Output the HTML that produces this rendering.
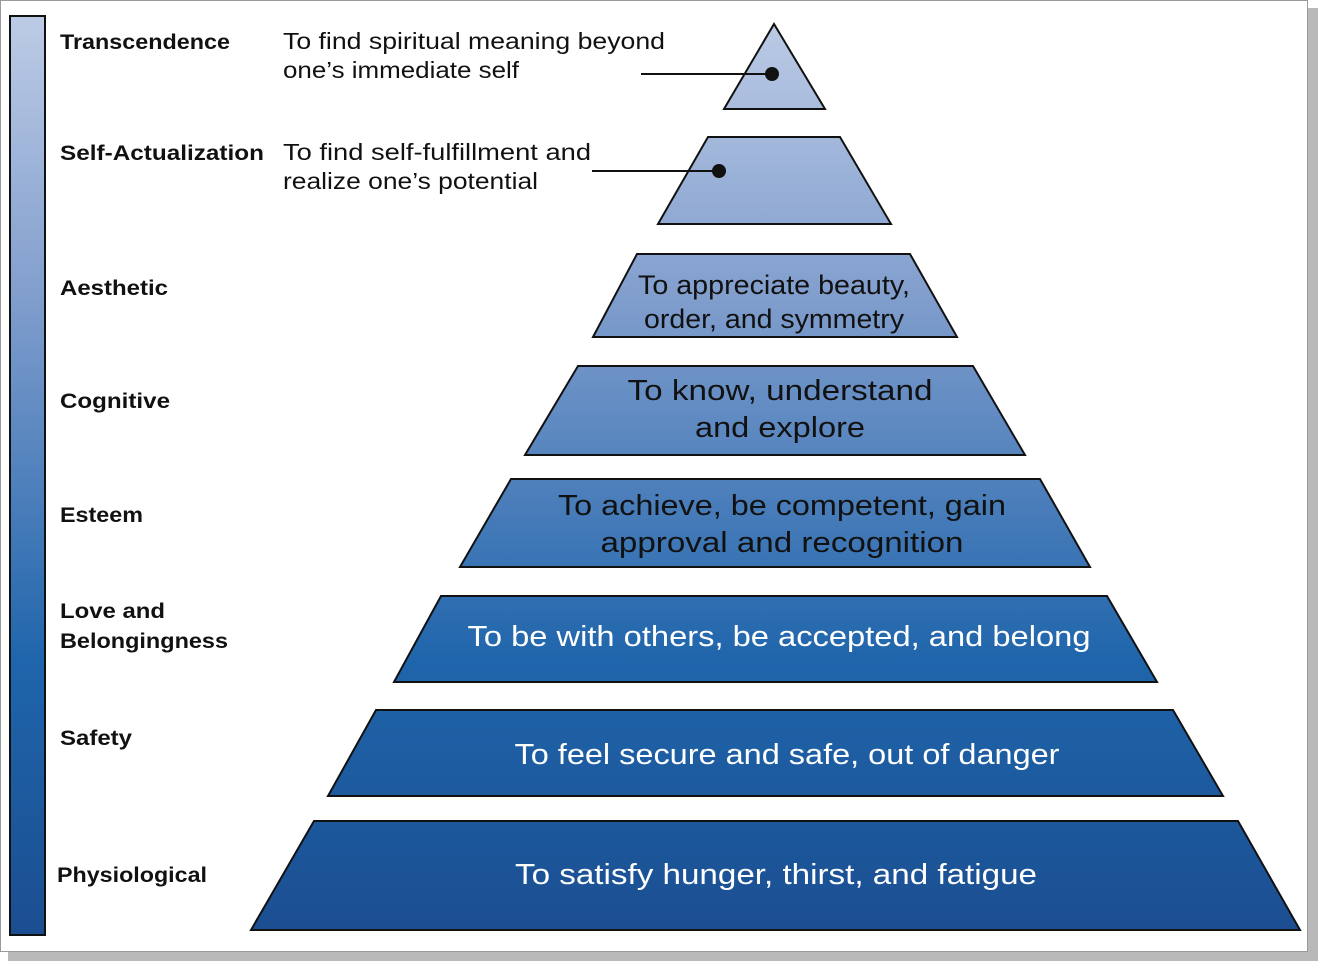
<!DOCTYPE html>
<html><head><meta charset="utf-8"><style>
html,body{margin:0;padding:0;background:#fff;}
svg{display:block;font-family:"Liberation Sans",sans-serif;}
</style></head><body>
<svg width="1326" height="969" viewBox="0 0 1326 969" xmlns="http://www.w3.org/2000/svg">
<defs>
<linearGradient id="g" gradientUnits="userSpaceOnUse" x1="0" y1="20" x2="0" y2="935">
<stop offset="0" stop-color="#bccbe5"/>
<stop offset="0.3" stop-color="#819ecd"/>
<stop offset="0.55" stop-color="#447ab8"/>
<stop offset="0.7" stop-color="#1f65ab"/>
<stop offset="1" stop-color="#1b4e91"/>
</linearGradient>
</defs>
<rect x="8" y="8" width="1310" height="953" fill="#8a8a8a" opacity="0.6"/>
<rect x="0.5" y="0.5" width="1307" height="951" fill="#fff" stroke="#9a9a9a"/>
<rect x="10" y="16" width="35" height="919" fill="url(#g)" stroke="#111" stroke-width="2"/>
<g fill="url(#g)" stroke="#111" stroke-width="2" stroke-linejoin="miter">
<polygon points="774,24 825,109 724,109"/>
<polygon points="708,137 840,137 891,224 658,224"/>
<polygon points="637,254 910,254 957,337 593,337"/>
<polygon points="578,366 973,366 1025,455 525,455"/>
<polygon points="511,479 1040,479 1090,567 460,567"/>
<polygon points="441,596 1107,596 1157,682 394,682"/>
<polygon points="376,710 1173,710 1223,796 328,796"/>
<polygon points="314,821 1238,821 1300,930 251,930"/>
</g>
<g stroke="#111" stroke-width="2"><line x1="641" y1="74" x2="772" y2="74"/><line x1="592" y1="171" x2="719" y2="171"/></g>
<circle cx="772" cy="74" r="7" fill="#111"/><circle cx="719" cy="171" r="7" fill="#111"/>
<g font-weight="bold" font-size="21" fill="#111" lengthAdjust="spacingAndGlyphs">
<text x="60" y="49" textLength="170" lengthAdjust="spacingAndGlyphs">Transcendence</text>
<text x="60" y="160" textLength="204" lengthAdjust="spacingAndGlyphs">Self-Actualization</text>
<text x="60" y="295" textLength="108" lengthAdjust="spacingAndGlyphs">Aesthetic</text>
<text x="60" y="408" textLength="110" lengthAdjust="spacingAndGlyphs">Cognitive</text>
<text x="60" y="522" textLength="83" lengthAdjust="spacingAndGlyphs">Esteem</text>
<text x="60" y="618" textLength="105" lengthAdjust="spacingAndGlyphs">Love and</text>
<text x="60" y="648" textLength="168" lengthAdjust="spacingAndGlyphs">Belongingness</text>
<text x="60" y="745" textLength="72" lengthAdjust="spacingAndGlyphs">Safety</text>
<text x="57" y="882" textLength="150" lengthAdjust="spacingAndGlyphs">Physiological</text>
</g>
<g font-size="23" fill="#111">
<text x="283" y="49" textLength="382" lengthAdjust="spacingAndGlyphs">To find spiritual meaning beyond</text>
<text x="283" y="78" textLength="236" lengthAdjust="spacingAndGlyphs">one’s immediate self</text>
<text x="283" y="160" textLength="308" lengthAdjust="spacingAndGlyphs">To find self-fulfillment and</text>
<text x="283" y="189" textLength="255" lengthAdjust="spacingAndGlyphs">realize one’s potential</text>
</g>
<g font-size="27" fill="#111" text-anchor="middle">
<text x="774" y="294" textLength="272" lengthAdjust="spacingAndGlyphs">To appreciate beauty,</text>
<text x="774" y="328" textLength="260" lengthAdjust="spacingAndGlyphs">order, and symmetry</text>
<text x="780" y="400" font-size="29" textLength="305" lengthAdjust="spacingAndGlyphs">To know, understand</text>
<text x="780" y="437" font-size="29" textLength="170" lengthAdjust="spacingAndGlyphs">and explore</text>
<text x="782" y="515" font-size="29" textLength="448" lengthAdjust="spacingAndGlyphs">To achieve, be competent, gain</text>
<text x="782" y="552" font-size="29" textLength="363" lengthAdjust="spacingAndGlyphs">approval and recognition</text>
</g>
<g font-size="29" fill="#fff" text-anchor="middle">
<text x="779" y="646" textLength="623" lengthAdjust="spacingAndGlyphs">To be with others, be accepted, and belong</text>
<text x="787" y="764" textLength="545" lengthAdjust="spacingAndGlyphs">To feel secure and safe, out of danger</text>
<text x="776" y="884" textLength="522" lengthAdjust="spacingAndGlyphs">To satisfy hunger, thirst, and fatigue</text>
</g>
</svg>
</body></html>
